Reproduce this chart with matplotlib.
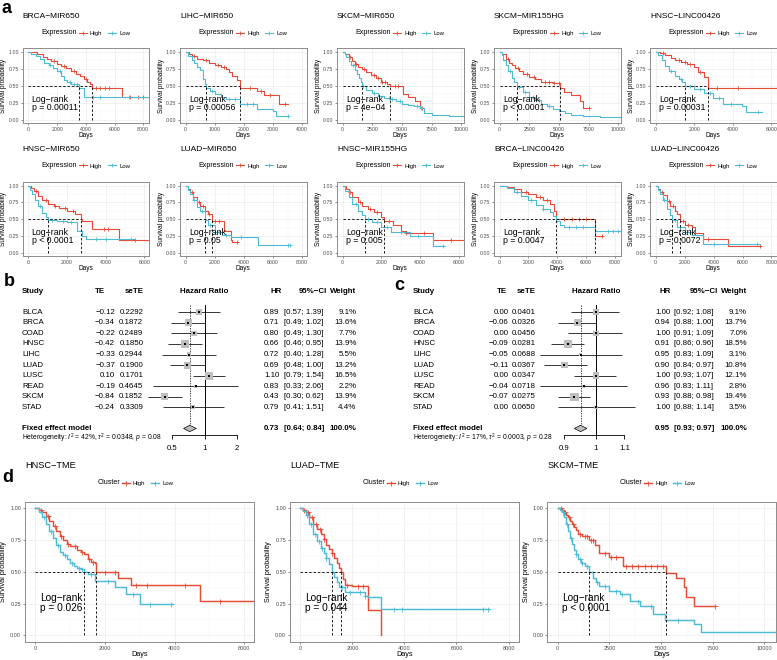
import matplotlib
matplotlib.use("Agg")
import matplotlib.pyplot as plt
from matplotlib.lines import Line2D
from matplotlib.patches import Polygon
from matplotlib.ticker import MultipleLocator, FixedLocator, FuncFormatter, NullLocator
from matplotlib.transforms import blended_transform_factory
import numpy as np

plt.rcParams["font.family"] = ["Liberation Sans", "DejaVu Sans"]
plt.rcParams["mathtext.fontset"] = "custom"
plt.rcParams["mathtext.rm"] = "Liberation Sans"
plt.rcParams["mathtext.it"] = "Liberation Sans:italic"

RED = "#E64B35"
BLUE = "#4DBBD5"
MINUS = "\u2212"

# ---------------- panel a : KM curves, (time, survival) knots ----------------
a_titles = ["BRCA-MIR650", "LIHC-MIR650", "SKCM-MIR650", "SKCM-MIR155HG", "HNSC-LINC00426",
            "HNSC-MIR650", "LUAD-MIR650", "HNSC-MIR155HG", "BRCA-LINC00426", "LUAD-LINC00426"]
a_pvals = ["p = 0.00011", "p = 0.00056", "p = 4e-04", "p < 0.0001", "p = 0.00031",
           "p < 0.0001", "p = 0.05", "p = 0.005", "p = 0.0047", "p = 0.0072"]
a_xmax = [8415, 4150, 10200, 10200, 6275, 6257, 8300, 6257, 8400, 8350]
a_xstep = [2000, 1000, 2500, 2500, 2000, 2000, 2000, 2000, 2000, 2000]

a1_high = [(0, 1.0), (300, 0.99), (600, 0.96), (1000, 0.92), (1300, 0.89), (1600, 0.86), (2000, 0.82),
           (2300, 0.79), (2600, 0.76), (3000, 0.72), (3300, 0.68), (3600, 0.64), (3900, 0.60), (4100, 0.56),
           (4300, 0.53), (4450, 0.47), (6500, 0.33), (8150, 0.33)]
a1_low = [(0, 1.0), (200, 0.97), (500, 0.93), (800, 0.89), (1100, 0.84), (1400, 0.80), (1700, 0.76),
          (2000, 0.71), (2300, 0.64), (2500, 0.59), (2700, 0.55), (3000, 0.53), (3500, 0.47), (3900, 0.33),
          (8415, 0.33)]
a1_high_c = [1800, 2500, 3200, 4000, 4700, 5000, 5300, 5600, 7100, 7600, 8000]
a1_low_c = [1500, 2200, 2900, 3200, 3400, 4500, 5000, 7000]

a2_high = [(0, 1.0), (100, 0.96), (200, 0.93), (400, 0.90), (600, 0.88), (800, 0.84), (1000, 0.80),
           (1200, 0.78), (1400, 0.74), (1500, 0.70), (1600, 0.65), (1750, 0.58), (1850, 0.47), (2450, 0.42),
           (2700, 0.36), (3200, 0.23), (3500, 0.23)]
a2_low = [(0, 1.0), (80, 0.93), (200, 0.88), (300, 0.84), (400, 0.78), (500, 0.73), (600, 0.60), (650, 0.53),
          (700, 0.47), (850, 0.42), (1000, 0.38), (1200, 0.34), (1400, 0.31), (1850, 0.23), (2450, 0.16),
          (3000, 0.13), (3100, 0.06), (3500, 0.06)]
a2_high_c = [300, 700, 1100, 1300, 2200, 2600, 2900, 3400]
a2_low_c = [900, 1500, 1700, 2100, 2300, 3500]

a3_high = [(0, 1.0), (200, 0.97), (500, 0.92), (800, 0.86), (1000, 0.82), (1300, 0.78), (1600, 0.74),
           (2000, 0.70), (2400, 0.66), (2800, 0.62), (3200, 0.56), (3700, 0.52), (4000, 0.49), (5050, 0.38),
           (5550, 0.33), (6100, 0.28), (6550, 0.18), (6750, 0.18)]
a3_low = [(0, 1.0), (150, 0.96), (300, 0.92), (500, 0.86), (700, 0.80), (1000, 0.73), (1200, 0.67),
          (1400, 0.61), (1550, 0.55), (1650, 0.49), (2000, 0.44), (2500, 0.39), (3000, 0.35), (3500, 0.32),
          (4000, 0.30), (4500, 0.27), (5000, 0.24), (5500, 0.22), (6000, 0.20), (6500, 0.17), (6900, 0.10),
          (7500, 0.07), (9000, 0.05), (10200, 0.03)]
a3_high_c = [600, 1100, 1800, 2600, 3000, 3300, 3600, 4400, 4700, 6700]
a3_low_c = [900, 1700, 2600, 3100, 3900, 4200, 4800, 6300, 6600]

a4_high = [(0, 1.0), (200, 0.96), (500, 0.90), (800, 0.84), (1000, 0.80), (1300, 0.76), (1600, 0.72),
           (2000, 0.68), (2500, 0.63), (3000, 0.60), (3500, 0.56), (4500, 0.54), (5060, 0.47), (5400, 0.41),
           (6000, 0.36), (6800, 0.28), (7000, 0.17), (7500, 0.17)]
a4_low = [(0, 1.0), (150, 0.95), (300, 0.88), (500, 0.80), (700, 0.71), (1000, 0.62), (1200, 0.55),
          (1430, 0.48), (2000, 0.41), (2500, 0.34), (3000, 0.29), (3500, 0.24), (4000, 0.20), (4500, 0.16),
          (5000, 0.13), (5500, 0.10), (6000, 0.07), (7000, 0.06), (8500, 0.04), (10200, 0.02)]
a4_high_c = [700, 1500, 2300, 2900, 3800, 4200, 4600, 5000, 7500]
a4_low_c = [900, 1600, 2100, 2800, 3300, 4200]

a5_high = [(0, 1.0), (200, 0.98), (500, 0.95), (800, 0.91), (1000, 0.88), (1300, 0.85), (1600, 0.82),
           (2000, 0.78), (2200, 0.70), (2500, 0.63), (2710, 0.47), (6275, 0.47)]
a5_low = [(0, 1.0), (100, 0.95), (300, 0.88), (500, 0.79), (700, 0.72), (1000, 0.65), (1200, 0.60),
          (1350, 0.55), (1500, 0.49), (2000, 0.46), (2500, 0.39), (3000, 0.32), (3500, 0.23), (4500, 0.21),
          (4700, 0.11), (5500, 0.11)]
a5_high_c = [400, 1200, 1500, 1800, 2300, 3200, 4300]
a5_low_c = [800, 1300, 1800, 2300, 2800, 3300, 3900, 5300]

a6_high = [(0, 1.0), (150, 0.96), (300, 0.92), (500, 0.85), (700, 0.79), (1000, 0.73), (1300, 0.70),
           (1600, 0.67), (2000, 0.62), (2400, 0.58), (2700, 0.50), (2800, 0.47), (3300, 0.36), (4700, 0.19),
           (6257, 0.19)]
a6_low = [(0, 1.0), (100, 0.94), (200, 0.88), (350, 0.79), (500, 0.70), (700, 0.60), (900, 0.54),
          (1030, 0.49), (1500, 0.47), (2000, 0.46), (2500, 0.33), (2800, 0.25), (3000, 0.20), (5500, 0.20)]
a6_high_c = [400, 900, 1400, 1900, 2300, 3900, 4100, 5500]
a6_low_c = [600, 1200, 1800, 2200, 3500, 4000, 5300]

a7_high = [(0, 1.0), (150, 0.95), (300, 0.90), (500, 0.83), (800, 0.76), (1000, 0.70), (1300, 0.63),
           (1500, 0.58), (1800, 0.48), (2600, 0.33), (3100, 0.19), (3150, 0.16), (3600, 0.16)]
a7_low = [(0, 1.0), (150, 0.94), (300, 0.88), (500, 0.78), (800, 0.68), (1000, 0.63), (1300, 0.49),
          (1500, 0.41), (2000, 0.31), (2500, 0.26), (3100, 0.23), (5000, 0.12), (7200, 0.12)]
a7_high_c = [400, 900, 1200, 1600, 2000, 2300, 3500]
a7_low_c = [600, 1100, 1700, 2300, 2800, 3800, 7000, 7200]

a8_high = [(0, 1.0), (150, 0.95), (300, 0.90), (500, 0.83), (800, 0.75), (1000, 0.70), (1300, 0.66),
           (1600, 0.61), (2000, 0.53), (2150, 0.48), (2600, 0.41), (3000, 0.33), (3300, 0.29), (4700, 0.19),
           (6257, 0.19)]
a8_low = [(0, 1.0), (100, 0.92), (300, 0.83), (500, 0.73), (800, 0.62), (1000, 0.56), (1170, 0.50),
          (1500, 0.46), (2000, 0.38), (2500, 0.31), (3500, 0.25), (4700, 0.11), (5300, 0.11)]
a8_high_c = [400, 900, 1400, 1800, 2400, 3300, 4200, 5600]
a8_low_c = [700, 1300, 1800, 2300, 3000, 3900, 5200]

a9_high = [(0, 1.0), (500, 0.98), (1000, 0.95), (1500, 0.91), (2000, 0.88), (2500, 0.83), (3000, 0.78),
           (3500, 0.73), (3800, 0.63), (3900, 0.51), (6600, 0.25), (7100, 0.25)]
a9_low = [(0, 1.0), (500, 0.96), (1000, 0.90), (1500, 0.84), (2000, 0.78), (2500, 0.72), (3000, 0.66),
          (3500, 0.61), (3700, 0.55), (3900, 0.48), (4200, 0.41), (4500, 0.39), (6600, 0.33), (8400, 0.33)]
a9_high_c = [1800, 2800, 3300, 4500, 5000, 5500, 6000, 7100]
a9_low_c = [1200, 2200, 3000, 4800, 5300, 5800, 7500, 7900, 8200]

a10_high = [(0, 1.0), (150, 0.95), (300, 0.91), (500, 0.86), (800, 0.77), (1000, 0.70), (1300, 0.63),
            (1500, 0.58), (1700, 0.48), (2000, 0.41), (2500, 0.38), (2700, 0.29), (3300, 0.21), (5000, 0.11),
            (7300, 0.11)]
a10_low = [(0, 1.0), (150, 0.94), (300, 0.88), (500, 0.78), (800, 0.66), (1000, 0.56), (1150, 0.49),
           (1500, 0.38), (2000, 0.31), (2500, 0.26), (3300, 0.13), (7200, 0.13)]
a10_high_c = [400, 900, 1200, 1900, 2200, 3600, 7200]
a10_low_c = [600, 1300, 1700, 2400, 4000, 7000]

a_high = [a1_high, a2_high, a3_high, a4_high, a5_high, a6_high, a7_high, a8_high, a9_high, a10_high]
a_low = [a1_low, a2_low, a3_low, a4_low, a5_low, a6_low, a7_low, a8_low, a9_low, a10_low]
a_high_c = [a1_high_c, a2_high_c, a3_high_c, a4_high_c, a5_high_c,
            a6_high_c, a7_high_c, a8_high_c, a9_high_c, a10_high_c]
a_low_c = [a1_low_c, a2_low_c, a3_low_c, a4_low_c, a5_low_c,
           a6_low_c, a7_low_c, a8_low_c, a9_low_c, a10_low_c]

# ---------------- panel d : TME clusters ----------------
d_titles = ["HNSC-TME", "LUAD-TME", "SKCM-TME"]
d_pvals = ["p = 0.026", "p = 0.044", "p < 0.0001"]
d_xmax = [6267, 8383, 10550]
d_xstep = [2000, 2000, 2500]

d1_high = [(0, 1.0), (100, 0.99), (200, 0.97), (300, 0.94), (400, 0.90), (500, 0.86), (600, 0.82),
           (700, 0.78), (800, 0.75), (900, 0.72), (1000, 0.70), (1200, 0.675), (1300, 0.66), (1400, 0.64),
           (1500, 0.60), (1600, 0.58), (1700, 0.57), (1750, 0.50), (2380, 0.455), (2750, 0.40),
           (4730, 0.27), (6267, 0.27)]
d1_low = [(0, 1.0), (100, 0.97), (200, 0.935), (300, 0.88), (400, 0.82), (500, 0.77), (600, 0.71),
          (700, 0.66), (800, 0.63), (900, 0.60), (1000, 0.57), (1100, 0.55), (1200, 0.53), (1300, 0.52),
          (1410, 0.50), (1500, 0.48), (1700, 0.43), (2300, 0.38), (2600, 0.325), (3000, 0.245), (3950, 0.245)]
d1_high_c = [150, 350, 550, 750, 950, 1150, 1350, 1550, 1650, 2000, 2300, 2900, 3200, 4300, 5300]
d1_low_c = [250, 450, 650, 850, 1050, 1250, 1350, 1600, 2100, 2800, 3300, 3900]

d2_high = [(0, 1.0), (100, 0.99), (200, 0.97), (350, 0.93), (500, 0.88), (650, 0.84), (800, 0.80),
           (900, 0.76), (1000, 0.71), (1100, 0.68), (1200, 0.65), (1300, 0.61), (1400, 0.57), (1500, 0.53),
           (1550, 0.50), (1650, 0.44), (1700, 0.40), (2000, 0.39), (2600, 0.20), (3100, 0.0)]
d2_low = [(0, 1.0), (100, 0.98), (200, 0.95), (350, 0.88), (500, 0.80), (650, 0.74), (800, 0.69),
          (900, 0.65), (1000, 0.61), (1100, 0.56), (1210, 0.50), (1300, 0.46), (1400, 0.42), (1500, 0.38),
          (1700, 0.34), (2500, 0.31), (2600, 0.30), (3100, 0.21), (7250, 0.21)]
d2_high_c = [150, 300, 450, 600, 750, 900, 1200, 1800, 2200, 2400]
d2_low_c = [250, 400, 550, 700, 850, 1000, 1600, 1900, 2300, 2500, 3600, 3900, 7000, 7200]

d3_high = [(0, 1.0), (200, 0.99), (300, 0.97), (400, 0.95), (500, 0.93), (600, 0.90), (700, 0.88),
           (800, 0.85), (900, 0.83), (1000, 0.80), (1200, 0.78), (1500, 0.75), (1800, 0.71), (2000, 0.65),
           (2500, 0.62), (3150, 0.545), (5250, 0.49), (5700, 0.45), (6100, 0.38), (6200, 0.30), (6600, 0.23),
           (7600, 0.23)]
d3_low = [(0, 1.0), (100, 0.99), (200, 0.97), (300, 0.93), (400, 0.88), (500, 0.82), (600, 0.77),
          (700, 0.72), (800, 0.675), (900, 0.64), (1000, 0.60), (1150, 0.57), (1300, 0.545), (1500, 0.50),
          (1700, 0.455), (1850, 0.42), (2000, 0.39), (2500, 0.35), (3000, 0.325), (3500, 0.27), (4000, 0.235),
          (4600, 0.17), (5200, 0.12), (6600, 0.09), (6950, 0.03), (10550, 0.03)]
d3_high_c = [150, 350, 550, 750, 1100, 1300, 1400, 1600, 1700, 2300, 2600, 2800, 3300, 3600, 3900, 4200,
             4500, 4800, 5100, 7600]
d3_low_c = [250, 450, 650, 900, 1100, 1200, 1400, 1900, 2300, 2800, 3100, 3900, 4500, 5800]

d_high = [d1_high, d2_high, d3_high]
d_low = [d1_low, d2_low, d3_low]
d_high_c = [d1_high_c, d2_high_c, d3_high_c]
d_low_c = [d1_low_c, d2_low_c, d3_low_c]

# ---------------- panels b and c : forest plots ----------------
studies = ["BLCA", "BRCA", "COAD", "HNSC", "LIHC", "LUAD", "LUSC", "READ", "SKCM", "STAD"]

b_te = [-0.12, -0.34, -0.22, -0.42, -0.33, -0.37, 0.10, -0.19, -0.84, -0.24]
b_sete = [0.2292, 0.1872, 0.2489, 0.1850, 0.2944, 0.1900, 0.1701, 0.4645, 0.1852, 0.3309]
b_hr = [0.89, 0.71, 0.80, 0.66, 0.72, 0.69, 1.10, 0.83, 0.43, 0.79]
b_lo = [0.57, 0.49, 0.49, 0.46, 0.40, 0.48, 0.79, 0.33, 0.30, 0.41]
b_hi = [1.39, 1.02, 1.30, 0.95, 1.28, 1.00, 1.54, 2.06, 0.62, 1.51]
b_w = [9.1, 13.6, 7.7, 13.9, 5.5, 13.2, 16.5, 2.2, 13.9, 4.4]
b_fixed = [0.73, 0.64, 0.84]
b_het = ["42%", "0.0348", "0.08"]
b_ticks = [0.5, 1, 2]

c_te = [0.00, -0.06, 0.00, -0.09, -0.05, -0.11, 0.00, -0.04, -0.07, 0.00]
c_sete = [0.0401, 0.0326, 0.0456, 0.0281, 0.0688, 0.0367, 0.0347, 0.0718, 0.0275, 0.0650]
c_hr = [1.00, 0.94, 1.00, 0.91, 0.95, 0.90, 1.00, 0.96, 0.93, 1.00]
c_lo = [0.92, 0.88, 0.91, 0.86, 0.83, 0.84, 0.93, 0.83, 0.88, 0.88]
c_hi = [1.08, 1.00, 1.09, 0.96, 1.09, 0.97, 1.07, 1.11, 0.98, 1.14]
c_w = [9.1, 13.7, 7.0, 18.5, 3.1, 10.8, 12.1, 2.8, 19.4, 3.5]
c_fixed = [0.95, 0.93, 0.97]
c_het = ["17%", "0.0003", "0.28"]
c_ticks = [0.9, 1, 1.1]

W, H = 777, 660
fig = plt.figure(figsize=(W / 100, H / 100), dpi=100)


def fbox(left, top, width, height):
    return [left / W, 1 - (top + height) / H, width / W, height / H]


def fx(x):
    return x / W


def fy(y):
    return 1 - y / H


def surv_at(curve, t):
    val = curve[0][1]
    for ti, si in curve:
        if ti <= t:
            val = si
    return val


def median_time(curve):
    for ti, si in curve:
        if si <= 0.5:
            return ti
    return None


def km_plot(left, top, width, height, title, high, low, high_c, low_c, pval, xmax, xstep,
            big, legend_name, title_y, legend_y):
    ax = fig.add_axes(fbox(left, top, width, height))
    lw = 1.05 if big else 0.8
    ms = 3.6 if big else 2.6
    for curve, cens, col in ((high, high_c, RED), (low, low_c, BLUE)):
        ax.step([p[0] for p in curve], [p[1] for p in curve], where="post", color=col, lw=lw, zorder=3)
        ax.plot(cens, [surv_at(curve, c) for c in cens], ls="none", marker="+", color=col,
                ms=ms, mew=0.6, zorder=3)
    meds = [median_time(high), median_time(low)]
    dash = (0, (3, 2.2))
    ax.plot([0, max(meds)], [0.5, 0.5], color="black", ls=dash, lw=0.6, zorder=4)
    for m in meds:
        ax.plot([m, m], [0, 0.5], color="black", ls=dash, lw=0.6, zorder=4)

    ax.set_xlim(-0.0476 * xmax, xmax)
    ax.set_ylim(-0.05, 1.05)
    ax.xaxis.set_major_locator(MultipleLocator(xstep))
    ax.xaxis.set_minor_locator(MultipleLocator(xstep / 2))
    ax.xaxis.set_major_formatter(FuncFormatter(lambda v, p: f"{int(round(v))}"))
    ax.yaxis.set_major_locator(FixedLocator([0, 0.25, 0.5, 0.75, 1.0]))
    ax.yaxis.set_minor_locator(FixedLocator([0.125, 0.375, 0.625, 0.875]))
    ax.yaxis.set_major_formatter(FuncFormatter(lambda v, p: f"{v:.2f}"))
    ax.grid(which="major", color="#EBEBEB", lw=0.5)
    ax.grid(which="minor", color="#F4F4F4", lw=0.35)
    ax.set_axisbelow(True)
    tick_fs = 4.0 if big else 3.8
    ax.tick_params(which="major", length=1.6, width=0.4, color="#333333", labelsize=tick_fs,
                   labelcolor="#4D4D4D", pad=1.2)
    ax.tick_params(which="minor", length=0)
    for sp in ax.spines.values():
        sp.set_color("#8C8C8C")
        sp.set_linewidth(0.7)

    lab_fs = 5.2 if big else 4.7
    ax.text(0.5, -(13.3 if big else 11.8) / height, "Days", transform=ax.transAxes,
            ha="center", va="center", fontsize=lab_fs)
    ax.text(-(21 if big else 18.7) / width, 0.5, "Survival probability", transform=ax.transAxes,
            ha="center", va="center", rotation=90, fontsize=lab_fs)

    if big:
        ax.text(0.066, 0.276, "Log\u2212rank\n" + pval.replace("-", MINUS), transform=ax.transAxes,
                ha="left", va="center", fontsize=7.3, linespacing=1.05, zorder=5)
    else:
        ax.text(0.07, 0.262, "Log\u2212rank\n" + pval.replace("-", MINUS), transform=ax.transAxes,
                ha="left", va="center", fontsize=6.3, linespacing=0.85, zorder=5)

    fig.text(fx(left), fy(title_y), title.replace("-", MINUS), ha="left", va="center",
             fontsize=6.6 if big else 6.0)
    off = 95 if big else 54.3
    fig.text(fx(left + off), fy(legend_y), legend_name, ha="right", va="center", fontsize=5.1)
    handles = [Line2D([0], [0], color=RED, lw=lw, marker="+", ms=ms, mew=0.6),
               Line2D([0], [0], color=BLUE, lw=lw, marker="+", ms=ms, mew=0.6)]
    ax.legend(handles, ["High", "Low"], loc="center left",
              bbox_to_anchor=(fx(left + off + 1.5), fy(legend_y)), bbox_transform=fig.transFigure,
              ncol=2, frameon=False, fontsize=4.3, handlelength=1.4, handletextpad=0.5,
              columnspacing=0.9, borderpad=0, borderaxespad=0)
    return ax


# ---- panel a ----
a_lefts = [22.7, 180, 337, 494, 650]
for k in range(10):
    row, col = divmod(k, 5)
    top = 48.3 if row == 0 else 182.3
    km_plot(a_lefts[col], top, 126.5, 75 if row == 0 else 74, a_titles[k], a_high[k], a_low[k],
            a_high_c[k], a_low_c[k], a_pvals[k], a_xmax[k], a_xstep[k], False, "Expression",
            16 if row == 0 else 149, 33 if row == 0 else 166)

# ---- panel d ----
d_lefts = [25, 290, 547.3]
for k in range(3):
    km_plot(d_lefts[k], 502, 228.5, 139.7, d_titles[k], d_high[k], d_low[k], d_high_c[k], d_low_c[k],
            d_pvals[k], d_xmax[k], d_xstep[k], True, "Cluster", 466, 483)


# ---- forest plots ----
def fmt_num(v, nd):
    s = f"{v:.{nd}f}"
    return s.replace("-", MINUS)


def forest(px_left, px_right, xlim, te, sete, hr, lo, hi, w, fixed, het, ticks, cols, hdr):
    row0, dy = 312.3, 10.56
    top_px, bot_px = 305, 435
    ax = fig.add_axes(fbox(px_left, top_px, px_right - px_left, bot_px - top_px))
    ax.set_xscale("log")
    ax.set_xlim(*xlim)
    ax.set_ylim((bot_px - row0) / dy, (top_px - row0) / dy)
    for name in ("left", "right", "top"):
        ax.spines[name].set_visible(False)
    ax.spines["bottom"].set_bounds(ticks[0], ticks[-1])
    ax.spines["bottom"].set_linewidth(0.6)
    ax.xaxis.set_major_locator(FixedLocator(ticks))
    ax.xaxis.set_minor_locator(NullLocator())
    ax.xaxis.set_major_formatter(FuncFormatter(lambda v, p: f"{v:g}"))
    ax.set_yticks([])
    ax.tick_params(axis="x", length=3, width=0.6, labelsize=5.6, pad=4.5)
    ax.patch.set_alpha(0)

    idx = list(range(len(studies)))
    ax.axvline(1, color="black", lw=0.7, zorder=1)
    ax.plot([fixed[0], fixed[0]], [(top_px - row0) / dy, 10.65], color="black", lw=0.5,
            ls=(0, (2, 1.6)), zorder=1)
    ax.hlines(idx, lo, hi, color="black", lw=0.55, zorder=2)
    ax.scatter(hr, idx, marker="s", s=[1.9 * v for v in w], color="#BEBEBE", lw=0, zorder=3)
    ax.scatter(hr, idx, marker="s", s=0.6, color="black", lw=0, zorder=4)
    est, flo, fhi = fixed
    diamond = Polygon([(flo, 11), (est, 11 - 0.3), (fhi, 11), (est, 11 + 0.3)], closed=True,
                      facecolor="#BEBEBE", edgecolor="black", lw=0.5, zorder=3)
    ax.add_patch(diamond)

    tr = blended_transform_factory(fig.transFigure, ax.transData)
    fs = 5.7
    hy = -1.95
    ax.text(fx(hdr["study"]), hy, "Study", transform=tr, ha="left", va="center", fontsize=fs,
            fontweight="bold", clip_on=False)
    ax.text(fx(hdr["te"]), hy, "TE", transform=tr, ha="center", va="center", fontsize=fs,
            fontweight="bold", clip_on=False)
    ax.text(fx(hdr["sete"]), hy, "seTE", transform=tr, ha="right", va="center", fontsize=fs,
            fontweight="bold", clip_on=False)
    ax.text(fx(hdr["hz"]), hy, "Hazard Ratio", transform=tr, ha="center", va="center",
            fontsize=fs, fontweight="bold", clip_on=False)
    ax.text(fx(hdr["hr"]), hy, "HR", transform=tr, ha="right", va="center", fontsize=fs,
            fontweight="bold", clip_on=False)
    ax.text(fx(hdr["ci"]), hy, "95%\u2212CI", transform=tr, ha="right", va="center", fontsize=fs,
            fontweight="bold", clip_on=False)
    ax.text(fx(hdr["w"]), hy, "Weight", transform=tr, ha="right", va="center", fontsize=fs,
            fontweight="bold", clip_on=False)
    for i in idx:
        ax.text(fx(cols["study"]), i, studies[i], transform=tr, ha="left", va="center", fontsize=fs)
        ax.text(fx(cols["te"]), i, fmt_num(te[i], 2), transform=tr, ha="right", va="center", fontsize=fs)
        ax.text(fx(cols["sete"]), i, f"{sete[i]:.4f}", transform=tr, ha="right", va="center", fontsize=fs)
        ax.text(fx(cols["hr"]), i, f"{hr[i]:.2f}", transform=tr, ha="right", va="center", fontsize=fs)
        ax.text(fx(cols["ci"]), i, f"[{lo[i]:.2f}; {hi[i]:.2f}]", transform=tr, ha="left", va="center",
                fontsize=fs)
        ax.text(fx(cols["w"]), i, f"{w[i]:.1f}%", transform=tr, ha="right", va="center", fontsize=fs)
    ax.text(fx(cols["study"]), 11, "Fixed effect model", transform=tr, ha="left", va="center",
            fontsize=fs, fontweight="bold")
    ax.text(fx(cols["hr"]), 11, f"{est:.2f}", transform=tr, ha="right", va="center", fontsize=fs,
            fontweight="bold")
    ax.text(fx(cols["ci"]), 11, f"[{flo:.2f}; {fhi:.2f}]", transform=tr, ha="left", va="center",
            fontsize=fs, fontweight="bold")
    ax.text(fx(cols["w"]), 11, "100.0%", transform=tr, ha="right", va="center", fontsize=fs,
            fontweight="bold")
    ax.text(fx(cols["study"]), 11.9,
            f"Heterogeneity: $I^2$ = {het[0]}, $\\tau^2$ = {het[1]}, $p$ = {het[2]}",
            transform=tr, ha="left", va="center", fontsize=4.9, clip_on=False)
    return ax


b_cols = dict(study=22, te=115, sete=143.3, hr=279.3, ci=283.5, w=356.5)
b_hdr = dict(study=22, te=100, sete=143.3, hz=204.5, hr=282, ci=326.7, w=356.7)
b_xlim = (2 ** ((145 - 204.5) / 32.5), 2 ** ((250 - 204.5) / 32.5))
forest(145, 250, b_xlim, b_te, b_sete, b_hr, b_lo, b_hi, b_w, b_fixed, b_het, b_ticks, b_cols, b_hdr)

c_cols = dict(study=413, te=508.5, sete=535.5, hr=670, ci=673.5, w=747)
c_hdr = dict(study=413, te=502, sete=535.5, hz=596, hr=671, ci=717.5, w=747)
c_xlim = (np.exp((530 - 596) / 299), np.exp((645 - 596) / 299))
forest(530, 645, c_xlim, c_te, c_sete, c_hr, c_lo, c_hi, c_w, c_fixed, c_het, c_ticks, c_cols, c_hdr)

# panel letters
for letter, x, y in (("a", 7, 8.5), ("b", 9, 282), ("c", 399, 285), ("d", 8, 477)):
    fig.text(fx(x), fy(y), letter, ha="center", va="center", fontsize=13, fontweight="bold")

fig.savefig("out.png", dpi=100)
